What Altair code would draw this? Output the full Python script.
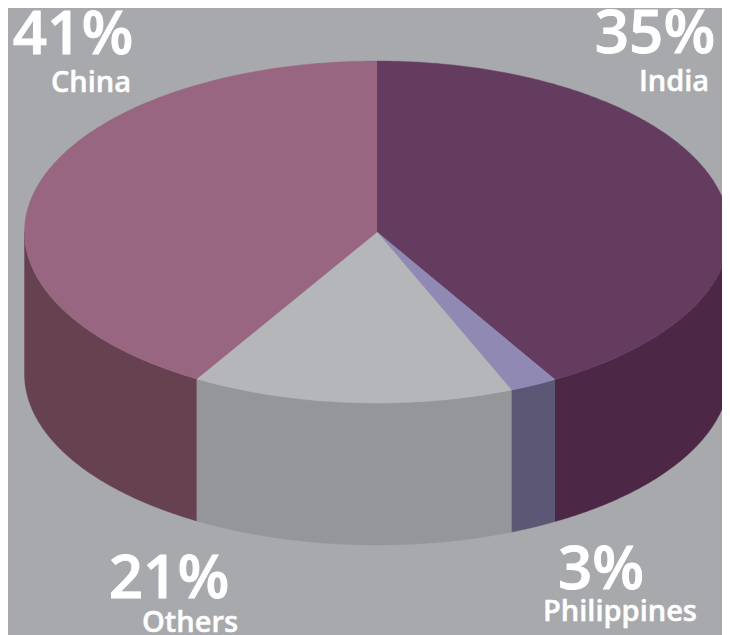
import numpy as np
import pandas as pd
import altair as alt

# Slices clockwise from 12 o'clock, with the shares as drawn in the picture
names = ["India", "Philippines", "Others", "China"]
drawn_shares = [41.58, 2.19, 14.78, 41.45]
labels_pct = ["35%", "3%", "21%", "41%"]
top_colors = ["#643c5f", "#8f89b3", "#b5b6b9", "#986680"]
side_colors = ["#4c2746", "#5c5775", "#959699", "#664150"]
bg = "#a7a9ac"

CX, CY, RX, RY, DEPTH = 377.0, 232.0, 352.5, 171.0, 142.0
big_pos = {"India": (655, 53), "Philippines": (601, 589), "Others": (169, 598), "China": (73, 54)}
small_pos = {"India": (674, 91), "Philippines": (620, 621), "Others": (190, 632), "China": (91, 92)}


def rim(a0, a1, drop=0.0):
    t = np.radians(np.linspace(a0, a1, max(int(abs(a1 - a0) * 2), 2)))
    return CX + RX * np.sin(t), CY - RY * np.cos(t) + drop


rows = []
edges = np.concatenate([[0], np.cumsum(drawn_shares)]) * 3.6
edges[-1] = 360
for k, name in enumerate(names):
    a0, a1 = edges[k], edges[k + 1]
    # side wall only for the front half of the rim
    s0, s1 = max(a0, 90), min(a1, 270)
    if s1 > s0:
        xa, ya = rim(s0, s1)
        xb, yb = rim(s1, s0, DEPTH)
        xs, ys = np.concatenate([xa, xb]), np.concatenate([ya, yb])
        rows += [dict(part=f"{name} side", i=i, x=x, y=y) for i, (x, y) in enumerate(zip(xs, ys))]
    xa, ya = rim(a0, a1)
    xs, ys = np.concatenate([[CX], xa]), np.concatenate([[CY], ya])
    rows += [dict(part=f"{name} top", i=i, x=x, y=y) for i, (x, y) in enumerate(zip(xs, ys))]
df = pd.DataFrame(rows)

parts = [f"{n} side" for n in names] + [f"{n} top" for n in names]
x_enc = alt.X("x:Q", scale=alt.Scale(domain=[8, 722], range=[0, 714], nice=False, zero=False), axis=None)
y_enc = alt.Y("y:Q", scale=alt.Scale(domain=[635, 8], range=[627, 0], nice=False, zero=False), axis=None)
fill_scale = alt.Scale(domain=parts, range=side_colors + top_colors)

sides = alt.Chart(df[df.part.str.endswith("side")]).mark_line(strokeWidth=0.4).encode(
    x=x_enc, y=y_enc, order="i:Q", detail="part:N",
    fill=alt.Fill("part:N", scale=fill_scale, legend=None),
    stroke=alt.Stroke("part:N", scale=fill_scale, legend=None),
)
tops = alt.Chart(df[df.part.str.endswith("top")]).mark_line(strokeWidth=0.4).encode(
    x=x_enc, y=y_enc, order="i:Q", detail="part:N",
    fill=alt.Fill("part:N", scale=fill_scale, legend=None),
    stroke=alt.Stroke("part:N", scale=fill_scale, legend=None),
)

big_df = pd.DataFrame({"t": labels_pct, "x": [big_pos[n][0] for n in names], "y": [big_pos[n][1] for n in names]})
small_df = pd.DataFrame({"t": names, "x": [small_pos[n][0] for n in names], "y": [small_pos[n][1] for n in names]})
big = alt.Chart(big_df).mark_text(font="Open Sans", fontWeight=600, fontSize=60, color="#ffffff",
                                  stroke="#ffffff", strokeWidth=0.9,
                                  align="center", baseline="alphabetic").encode(x=x_enc, y=y_enc, text="t:N")
small = alt.Chart(small_df).mark_text(font="Open Sans", fontWeight=600, fontSize=29, color="#ffffff",
                                      stroke="#ffffff", strokeWidth=0.5,
                                      align="center", baseline="alphabetic").encode(x=x_enc, y=y_enc, text="t:N")

chart = alt.layer(sides, tops, big, small).resolve_scale(fill="shared", stroke="shared").properties(
    width=714, height=627, background=bg, padding=0,
    autosize=alt.AutoSizeParams(type="none"),
).configure_view(stroke=None, fill=bg)

chart.save("out.html", embed_options={"renderer": "svg", "actions": False})
